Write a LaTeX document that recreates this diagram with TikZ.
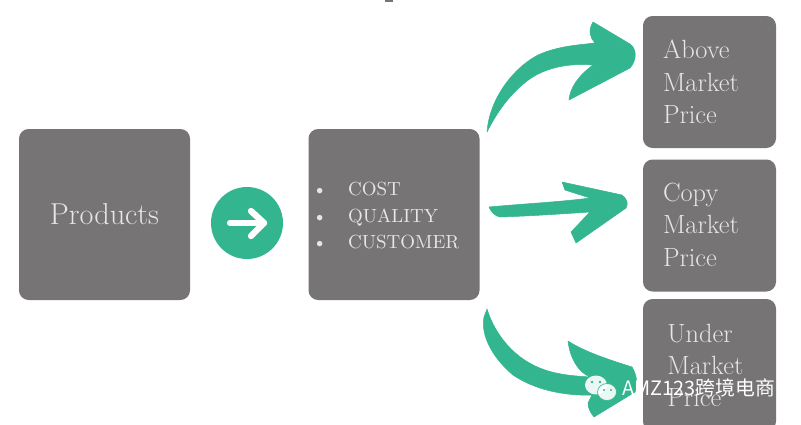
\documentclass[tikz,border=0pt]{standalone}
\usepackage{fontspec}
\newfontfamily\cjkfont{Noto Sans CJK SC}
\definecolor{boxgray}{HTML}{767475}
\definecolor{swoosh}{HTML}{33B68F}
\definecolor{boxtext}{HTML}{E6E6E6}
\tikzset{
    graybox/.style={fill=boxgray, rounded corners=5.5pt, text=boxtext, inner sep=0pt},
    bigbox/.style={graybox, minimum width=171*0.02cm, minimum height=171*0.02cm},
    pricebox/.style={graybox, minimum width=133*0.02cm, minimum height=132*0.02cm, text width=93*0.02cm, align=left, font=\fontsize{15}{18.2}\selectfont},
    swooshfill/.style={fill=swoosh, draw=swoosh, line width=0.3pt, line join=round}
}
\begin{document}
\begin{tikzpicture}[x=0.02cm, y=-0.02cm]
    \clip (0,0) rectangle (801,424);
    \fill[white] (0,0) rectangle (801,424);

    % Tiny mark at the top edge
    \fill[boxgray] (385,0) rectangle (393,2);

    % Left and middle boxes
    \node[bigbox, font=\fontsize{17.2}{19}\selectfont] (products) at (104.5,214.5) {Products};
    \node[bigbox] (factors) at (394,214.5) {};
    \node[text=boxtext, inner sep=0pt, anchor=west, font=\fontsize{10.8}{15}\selectfont] (factorlist) at (312,217) {%
        \begin{tabular}{@{}l@{\hspace{12pt}}l@{}}
        \textbullet & COST\\
        \textbullet & QUALITY\\
        \textbullet & CUSTOMER
        \end{tabular}};

    % Circle with white arrow
    \node[circle, fill=swoosh, minimum size=72*0.02cm, inner sep=0pt] (go) at (247,223) {};
    \draw[white, line width=3.6pt, line cap=round, line join=round] (230,223) -- (264,223);
    \draw[white, line width=3.6pt, line cap=round, line join=round] (251,211) -- (264,223) -- (251,236);

    % Price boxes on the right
    \node[pricebox] (above) at (709.5,82) {\raisebox{1pt}{Above}\\\raisebox{0.6pt}{Market}\\\raisebox{0.6pt}{Price}};
    \node[pricebox] (copy) at (709.5,225.5) {\raisebox{1.2pt}{Copy}\\\raisebox{1.2pt}{Market}\\\raisebox{0.6pt}{Price}};
    \node[pricebox] (under) at (709.5,365) {\hspace*{2.5pt}Under\\\hspace*{2.5pt}Market\\\hspace*{2.5pt}Price};

    % Upper arrow
    \fill[swooshfill] (487,132) .. controls (489,102) and (510,70) .. (538,55)
        .. controls (558,46) and (578,45) .. (595,43)
        .. controls (590,38) and (588,30) .. (593,22)
        -- (630,44) .. controls (637,49) and (637,60) .. (630,68)
        -- (569,100) .. controls (570,88) and (578,76) .. (593,65)
        .. controls (570,63) and (545,67) .. (527,81)
        .. controls (510,94) and (497,112) .. (487,132) -- cycle;

    % Middle arrow
    \fill[swooshfill] (489,207) .. controls (520,204) and (560,202) .. (590,198)
        -- (565,190) -- (562,182)
        -- (622,195) .. controls (628,200) and (628,204) .. (626,208)
        -- (576,243) -- (571,232) -- (590,212)
        .. controls (560,214) and (530,216) .. (500,217)
        .. controls (495,216) and (491,212) .. (489,207) -- cycle;

    % Lower arrow
    \fill[swooshfill] (487,309) .. controls (495,335) and (515,360) .. (545,370)
        .. controls (560,375) and (575,376) .. (590,377)
        .. controls (578,372) and (570,358) .. (568,341)
        .. controls (585,352) and (610,360) .. (632,367)
        .. controls (637,375) and (638,385) .. (635,392)
        -- (594,417) .. controls (590,412) and (588,408) .. (588,403)
        -- (592,395) .. controls (565,396) and (535,390) .. (513,375)
        .. controls (495,360) and (480,337) .. (484,317)
        -- cycle;

    % Watermark
    \fill[white, opacity=0.9] (596,385) ellipse [x radius=11, y radius=9.5];
    \fill[white, opacity=0.9, draw=swoosh, line width=0.4pt] (607,392) ellipse [x radius=9.5, y radius=8.5];
    \fill[swoosh] (592,382) circle (1.3) (600,382) circle (1.3) (604,390) circle (1.2) (611,390) circle (1.2);
    \node[text=white, inner sep=0pt, anchor=west, font=\cjkfont\fontsize{11.3}{12}\selectfont] (mark) at (622,388) {AMZ123跨境电商};
\end{tikzpicture}
\end{document}
